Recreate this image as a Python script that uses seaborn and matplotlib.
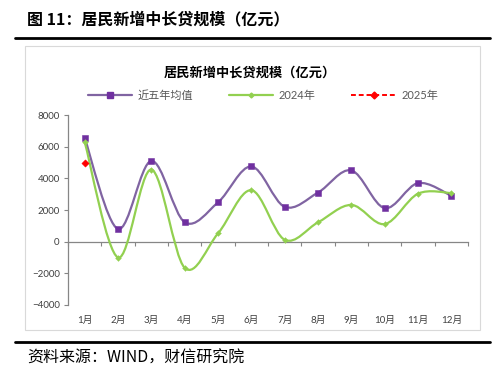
import numpy as np
import matplotlib
matplotlib.use("Agg")
import matplotlib.pyplot as plt
from matplotlib.path import Path
from matplotlib.patches import PathPatch, Rectangle
from matplotlib.lines import Line2D
import seaborn as sns

# ---- data (亿元) ----
MONTHS = ["1月", "2月", "3月", "4月", "5月", "6月", "7月", "8月", "9月", "10月", "11月", "12月"]
AVG_5Y = [6550, 800, 5100, 1230, 2480, 4750, 2200, 3100, 4500, 2120, 3700, 2900]
Y2024 = [6300, -1000, 4550, -1650, 520, 3250, 120, 1220, 2320, 1110, 3030, 3070]
Y2025 = [4950]

PURPLE_LINE = "#8064A2"
PURPLE = "#7030A0"
GREEN = "#92D050"
RED = "#FF0000"


def smooth_path(ys):
    """Excel-like smoothed line as cubic bezier segments (catmull-rom control points)."""
    pts = np.column_stack([np.arange(len(ys)), ys]).astype(float)
    n = len(pts)
    verts, codes = [pts[0]], [Path.MOVETO]
    for i in range(n - 1):
        p0 = pts[i - 1] if i > 0 else pts[i]
        p1, p2 = pts[i], pts[i + 1]
        p3 = pts[i + 2] if i + 2 < n else pts[i + 1]
        verts += [p1 + (p2 - p0) / 6, p2 - (p3 - p1) / 6, p2]
        codes += [Path.CURVE4] * 3
    return Path(verts, codes)


sns.set_theme(style="white")
plt.rcParams["font.family"] = ["Lato", "Noto Sans CJK SC", "DejaVu Sans"]

fig = plt.figure(figsize=(5.0, 3.76), dpi=100)
W, H = 500, 376
ax = fig.add_axes([68 / W, 1 - 305 / H, 400 / W, (305 - 115) / H])

x = np.arange(len(MONTHS))
for ys, col, lw in [(AVG_5Y, PURPLE_LINE, 1.6), (Y2024, GREEN, 1.6)]:
    ax.add_patch(PathPatch(smooth_path(ys), facecolor="none", edgecolor=col, lw=lw, zorder=2))

sns.scatterplot(x=x, y=AVG_5Y, marker="s", s=22, color=PURPLE, edgecolor=PURPLE, ax=ax, zorder=3)
sns.scatterplot(x=x, y=Y2024, marker="D", s=9, color=GREEN, edgecolor=GREEN, ax=ax, zorder=3)
sns.scatterplot(x=x[:len(Y2025)], y=Y2025, marker="D", s=14, color=RED, edgecolor=RED, ax=ax, zorder=4)

ax.set_xlim(-0.5, 11.5)
ax.set_ylim(-4000, 8000)
ax.set_yticks(range(-4000, 8001, 2000))
ax.set_xticks(x)
ax.set_xticklabels(MONTHS)
ax.tick_params(axis="x", length=0, pad=8, labelsize=7, labelcolor="#404040")
ax.tick_params(axis="y", direction="out", length=3, width=0.8, color="#868686",
               labelsize=7, labelcolor="#404040", left=True, pad=3)
for s in ["top", "right", "bottom"]:
    ax.spines[s].set_visible(False)
ax.spines["left"].set_color("#868686")
ax.spines["left"].set_linewidth(0.9)

# category axis crossing at zero with boundary tick marks
zero_ax = ax.secondary_xaxis(4000 / 12000)
zero_ax.set_xticks(np.arange(-0.5, 12, 1))
zero_ax.set_xticklabels([])
zero_ax.tick_params(direction="out", length=3, width=0.8, color="#868686")
zero_ax.spines["bottom"].set_color("#868686")
zero_ax.spines["bottom"].set_linewidth(0.9)

# legend
handles = [
    Line2D([], [], color=PURPLE_LINE, lw=1.6, marker="s", markersize=4.5,
           markerfacecolor=PURPLE, markeredgecolor=PURPLE),
    Line2D([], [], color=GREEN, lw=1.6, marker="D", markersize=2.5,
           markerfacecolor=GREEN, markeredgecolor=GREEN),
    Line2D([], [], color=RED, lw=1.4, ls=(0, (2.5, 1.5)), marker="D", markersize=3.5,
           markerfacecolor=RED, markeredgecolor=RED),
]
fig.legend(handles, ["近五年均值", "2024年", "2025年"], loc="center",
           bbox_to_anchor=(263 / W, 1 - 95 / H), ncol=3, frameon=False,
           fontsize=8, labelcolor="#595959", handlelength=4.0, handletextpad=0.5,
           columnspacing=3.2)

# chart title
fig.text(250 / W, 1 - 73 / H, "居民新增中长贷规模（亿元）", ha="center", va="center",
         fontsize=9.5, fontweight="bold", color="#000000",
         family=["Noto Sans CJK SC", "DejaVu Sans"])

# page decorations
fig.text(27 / W, 1 - 19 / H, "图 11：居民新增中长贷规模（亿元）", ha="left", va="center",
         fontsize=11.5, fontweight="bold", color="#000000",
         family=["Noto Sans CJK SC", "DejaVu Sans"])
fig.add_artist(Line2D([15 / W, 490 / W], [1 - 38 / H, 1 - 38 / H], color="black", lw=2))
fig.add_artist(Line2D([15 / W, 490 / W], [1 - 342 / H, 1 - 342 / H], color="black", lw=2))
fig.add_artist(Rectangle((25 / W, 1 - 330 / H), 455 / W, 284 / H, transform=fig.transFigure,
                         facecolor="none", edgecolor="#D9D9D9", lw=0.8))
fig.text(27 / W, 1 - 358 / H, "资料来源：WIND，财信研究院", ha="left", va="center",
         fontsize=11.5, style="italic", color="#000000",
         family=["Noto Sans CJK SC", "DejaVu Sans"])

fig.savefig("out.png", dpi=100)
